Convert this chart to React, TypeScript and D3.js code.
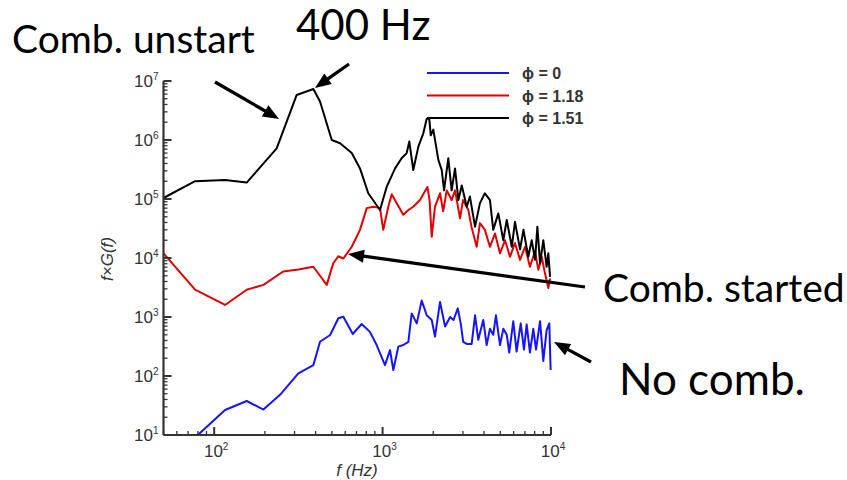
import React from "react";
import * as d3 from "d3";

const W = 847;
const H = 480;

// phi = 0 (no combustion)
const noComb: [number, number][] = [
  [80, 10], [116, 26.5], [156, 37.7], [196, 27], [246, 48], [316, 111], [388, 153], [425, 380],
  [488, 495], [546, 950], [585, 1010], [665, 515], [751, 760], [841, 560], [922, 335], [1033, 153],
  [1107, 275], [1158, 126], [1240, 315], [1327, 335], [1422, 380], [1489, 1150], [1595, 780],
  [1707, 1900], [1828, 1070], [1958, 890], [2047, 465], [2193, 1800], [2350, 690], [2518, 1000],
  [2638, 890], [2795, 1400], [2910, 780], [3010, 380], [3160, 350], [3380, 350], [3540, 1070],
  [3700, 410], [3960, 890], [4150, 335], [4340, 630], [4540, 500], [4710, 1070], [4980, 335],
  [5210, 630], [5460, 500], [5650, 250], [5970, 850], [6250, 260], [6610, 780], [6910, 280],
  [7170, 750], [7500, 250], [7850, 630], [8150, 280], [8610, 850], [9000, 180], [9420, 600],
  [9770, 780], [9950, 126],
];

// phi = 1.18 (combustion started)
const started: [number, number][] = [
  [50, 1.2e4], [77, 2.9e3], [116, 1.6e3], [156, 2.9e3], [196, 3.5e3], [257, 5.9e3], [316, 6.4e3],
  [388, 7.1e3], [466, 3.5e3], [509, 8.1e3], [546, 1.07e4], [585, 9.8e3], [656, 1.55e4], [734, 3.0e4],
  [805, 7.0e4], [881, 7.4e4], [965, 7.0e4], [1009, 3.0e4], [1081, 7.4e4], [1133, 1.2e5], [1213, 8.5e4],
  [1327, 5.4e4], [1422, 6.5e4], [1521, 7.4e4], [1667, 9.6e4], [1845, 1.6e5], [1900, 9.6e4],
  [1958, 2.3e4], [2047, 7.4e4], [2193, 1.25e5], [2290, 6.2e4], [2403, 1.4e5], [2570, 9.6e4],
  [2692, 1.4e5], [2884, 4.7e4], [3000, 9.6e4], [3230, 6.5e4], [3370, 3.4e4], [3620, 1.55e4],
  [3785, 3.9e4], [4050, 3.0e4], [4340, 1.55e4], [4650, 2.6e4], [4980, 1.2e4], [5330, 2.0e4],
  [5710, 1.05e4], [6110, 1.8e4], [6550, 9.3e3], [7010, 1.55e4], [7500, 7.1e3], [8040, 1.3e4],
  [8410, 6.3e3], [8810, 1.05e4], [9210, 5.5e3], [9640, 3.1e3], [9870, 4.5e3],
];

// phi = 1.51 (combustion unstart)
const unstart: [number, number][] = [
  [50, 1.04e5], [77, 2.0e5], [116, 2.1e5], [156, 1.9e5], [235, 7.2e5], [309, 5.8e6], [388, 7.3e6],
  [425, 4.5e6], [499, 1.0e6], [559, 8.8e5], [656, 6.0e5], [734, 3.3e5], [822, 1.25e5], [965, 6.5e4],
  [1057, 1.6e5], [1186, 3.3e5], [1297, 4.9e5], [1390, 6.0e5], [1441, 9.4e5], [1521, 3.1e5],
  [1630, 7.7e5], [1745, 1.3e6], [1828, 2.3e6], [1893, 2.3e6], [1932, 1.2e6], [2000, 1.5e6],
  [2143, 4.6e5], [2244, 3.1e5], [2317, 1.4e5], [2455, 4.9e5], [2570, 1.4e5], [2692, 3.3e5],
  [2818, 9.6e4], [2951, 1.7e5], [3160, 7.4e4], [3300, 1.1e5], [3540, 3.4e4], [3785, 8.5e4],
  [4050, 1.25e5], [4340, 9.6e4], [4540, 3.0e4], [4865, 5.7e4], [5210, 2.0e4], [5460, 4.4e4],
  [5850, 1.55e4], [6110, 4.1e4], [6550, 1.4e4], [6860, 3.0e4], [7330, 1.05e4], [7680, 2.0e4],
  [8040, 9.3e3], [8300, 3.4e4], [8610, 8.1e3], [9000, 2.0e4], [9420, 7.1e3], [9640, 1.2e4],
  [9870, 4.8e3],
];

const xMajor = [100, 1000, 10000];
const yMajor = [10, 100, 1000, 1e4, 1e5, 1e6, 1e7];
const legendLabels = ["\u03d5 = 0", "\u03d5 = 1.18", "\u03d5 = 1.51"];
const seriesColors = ["#1414ff", "#e00000", "#000000"];

function arrow(x1: number, y1: number, x2: number, y2: number, L = 16, w = 13) {
  const dx = x2 - x1, dy = y2 - y1;
  const len = Math.hypot(dx, dy);
  const ux = dx / len, uy = dy / len;
  const bx = x2 - ux * L, by = y2 - uy * L;
  const nx = -uy, ny = ux;
  const pts = `${x2},${y2} ${bx + nx * w / 2},${by + ny * w / 2} ${bx - nx * w / 2},${by - ny * w / 2}`;
  return (
    <g>
      <line x1={x1} y1={y1} x2={bx + ux * 2} y2={by + uy * 2} stroke="#000" strokeWidth={3.2} />
      <polygon points={pts} fill="#000" />
    </g>
  );
}

export default function App() {
  const x = d3.scaleLog().domain([50, 10000]).range([163.5, 551]);
  const y = d3.scaleLog().domain([10, 1e7]).range([435, 81]);
  const line = d3.line<[number, number]>().x((d) => x(d[0])).y((d) => y(d[1]));

  const xMinor: number[] = [];
  [10, 100, 1000].forEach((b) => {
    for (let k = 2; k <= 9; k++) {
      const v = b * k;
      if (v >= 50 && v <= 10000 && !xMajor.includes(v)) xMinor.push(v);
    }
  });
  const yMinor: number[] = [];
  yMajor.slice(0, -1).forEach((b) => {
    for (let k = 2; k <= 9; k++) yMinor.push(b * k);
  });

  const x0 = x.range()[0];
  const y0 = y.range()[0];
  const axisColor = "#333";
  const tickFont = "'Liberation Sans', Arial, sans-serif";
  const annFont = "Lato, 'Open Sans', sans-serif";

  const series = [noComb, started, unstart];

  return (
    <div style={{ position: "fixed", left: 0, top: 0 }}>
      <svg width={W} height={H} viewBox={`0 0 ${W} ${H}`} style={{ display: "block", background: "#fff" }}>
        <defs>
          <clipPath id="plot">
            <rect x={x0} y={y.range()[1] - 5} width={x.range()[1] - x0 + 2} height={y0 - y.range()[1] + 5} />
          </clipPath>
        </defs>

        {/* curves */}
        <g clipPath="url(#plot)" fill="none" strokeWidth={2} strokeLinejoin="round">
          {series.map((s, i) => (
            <path key={i} d={line(s) || ""} stroke={seriesColors[i]} />
          ))}
        </g>

        {/* axes */}
        <g stroke={axisColor} strokeWidth={1.3}>
          {xMinor.map((v) => (
            <line key={"xm" + v} x1={x(v)} x2={x(v)} y1={y0} y2={y0 - 4} />
          ))}
          {xMajor.map((v) => (
            <line key={"xM" + v} x1={x(v)} x2={x(v)} y1={y0} y2={y0 - 8} strokeWidth={2} />
          ))}
          {yMinor.map((v) => (
            <line key={"ym" + v} x1={x0} x2={x0 + 4} y1={y(v)} y2={y(v)} />
          ))}
          {yMajor.map((v) => (
            <line key={"yM" + v} x1={x0} x2={x0 + 8} y1={y(v)} y2={y(v)} strokeWidth={2} />
          ))}
          <line x1={x0} x2={x0} y1={y.range()[1]} y2={y0} strokeWidth={2.2} />
          <line x1={x0} x2={x.range()[1]} y1={y0} y2={y0} strokeWidth={2.2} />
        </g>

        {/* tick labels */}
        <g fontFamily={tickFont} fill="#333" fontSize={17}>
          {yMajor.map((v) => (
            <text key={"yl" + v} x={x0 - 5} y={y(v) + 6} textAnchor="end">
              10<tspan fontSize={10} dy={-7}>{Math.round(Math.log10(v))}</tspan>
            </text>
          ))}
          {xMajor.map((v) => (
            <text key={"xl" + v} x={x(v) + 2} y={y0 + 22} textAnchor="middle">
              10<tspan fontSize={10} dy={-7}>{Math.round(Math.log10(v))}</tspan>
            </text>
          ))}
          <text x={357} y={476} textAnchor="middle" fontStyle="italic" fontSize={17}>f (Hz)</text>
          <text transform="translate(113,259) rotate(-90)" textAnchor="middle" fontStyle="italic" fontSize={17}>
            f×G(f)
          </text>
        </g>

        {/* legend */}
        <g fontFamily={tickFont} fontWeight="bold" fontSize={16} fill="#333">
          {legendLabels.map((t, i) => {
            const ly = 73 + i * 22.5;
            return (
              <g key={t}>
                <line x1={427} x2={509} y1={ly} y2={ly} stroke={seriesColors[i]} strokeWidth={2.2} />
                <text x={522} y={ly + 6}>{t}</text>
              </g>
            );
          })}
        </g>

        {/* annotations */}
        <g fontFamily={annFont} fill="#000">
          <text x={12} y={53} fontSize={39}>Comb. unstart</text>
          <text x={296} y={40} fontSize={42}>400 Hz</text>
          <text x={603} y={302} fontSize={39}>Comb. started</text>
          <text x={619} y={395} fontSize={44}>No comb.</text>
        </g>
        {arrow(215, 82, 279, 119)}
        {arrow(349, 64, 315, 88)}
        {arrow(585, 287, 348, 254)}
        {arrow(591, 362, 554, 342)}
      </svg>
    </div>
  );
}
